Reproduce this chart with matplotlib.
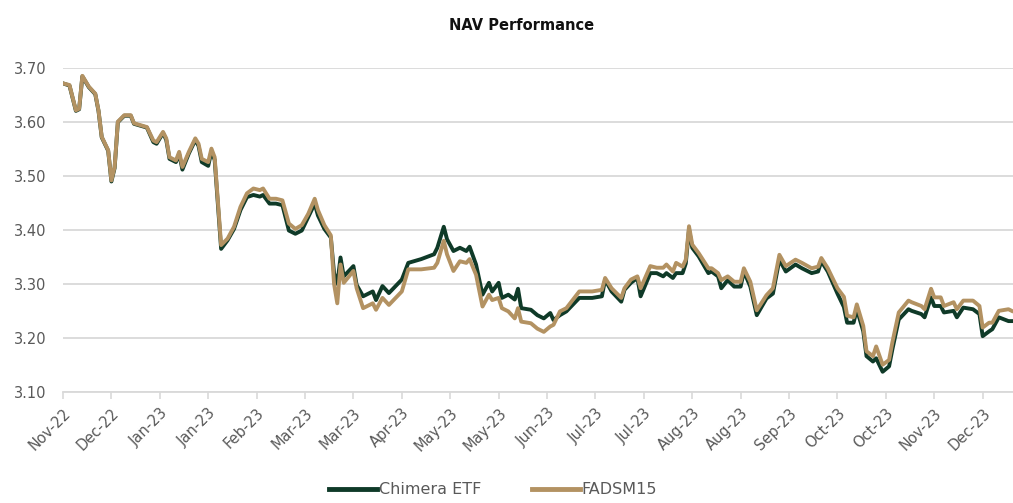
import matplotlib
matplotlib.use("Agg")
import matplotlib.pyplot as plt

# trading-day index of each read point
day = [0, 2, 4, 5, 6, 8, 10, 11, 12, 14, 15, 16, 17, 19, 21, 22, 26, 28, 29, 31,
       32, 33, 35, 36, 37, 39, 41, 42, 43, 45, 46, 47, 49, 51, 53, 55, 57, 59, 61, 62,
       64, 66, 68, 70, 72, 74, 76, 78, 79, 81, 83, 84, 85, 86, 87, 90, 91, 93, 96, 97,
       99, 101, 105, 107, 111, 115, 116, 118, 119, 121, 123, 125, 126, 128, 130, 132, 133, 135, 136, 138,
       140, 141, 142, 145, 147, 149, 151, 152, 154, 156, 160, 164, 167, 168, 170, 173, 174, 176, 178, 179,
       182, 184, 186, 187, 189, 190, 192, 193, 194, 195, 197, 200, 201, 203, 204, 206, 208, 210, 211, 213,
       215, 218, 220, 222, 224, 227, 229, 232, 234, 235, 237, 240, 242, 243, 245, 246, 248, 249, 251, 252,
       254, 256, 257, 259, 262, 263, 266, 267, 269, 270, 272, 273, 276, 277, 279, 282, 284, 285, 287, 288,
       290, 293, 294]

chimera = [3.672, 3.668, 3.621, 3.624, 3.685, 3.665, 3.652, 3.621, 3.572, 3.547, 3.490, 3.515, 3.600, 3.612, 3.612, 3.597, 3.590, 3.563, 3.560, 3.580,
           3.567, 3.532, 3.526, 3.541, 3.512, 3.542, 3.567, 3.556, 3.526, 3.519, 3.546, 3.530, 3.365, 3.381, 3.402, 3.437, 3.461, 3.465, 3.462, 3.465,
           3.449, 3.449, 3.446, 3.399, 3.393, 3.399, 3.424, 3.449, 3.427, 3.402, 3.386, 3.320, 3.300, 3.349, 3.314, 3.333, 3.298, 3.277, 3.286, 3.270,
           3.296, 3.283, 3.308, 3.339, 3.346, 3.355, 3.367, 3.406, 3.383, 3.361, 3.367, 3.361, 3.369, 3.336, 3.280, 3.302, 3.286, 3.302, 3.274, 3.280,
           3.271, 3.291, 3.255, 3.252, 3.242, 3.236, 3.246, 3.233, 3.242, 3.249, 3.274, 3.274, 3.277, 3.308, 3.286, 3.267, 3.289, 3.302, 3.311, 3.277,
           3.320, 3.320, 3.314, 3.320, 3.311, 3.320, 3.320, 3.338, 3.401, 3.367, 3.351, 3.320, 3.323, 3.314, 3.292, 3.307, 3.295, 3.295, 3.323, 3.295,
           3.242, 3.273, 3.282, 3.345, 3.323, 3.336, 3.329, 3.320, 3.323, 3.342, 3.323, 3.282, 3.257, 3.228, 3.228, 3.253, 3.212, 3.166, 3.156, 3.162,
           3.137, 3.147, 3.178, 3.234, 3.253, 3.250, 3.244, 3.238, 3.275, 3.259, 3.259, 3.247, 3.250, 3.238, 3.256, 3.253, 3.244, 3.203, 3.212, 3.216,
           3.238, 3.231, 3.231]

fadsm15 = [3.672, 3.669, 3.622, 3.625, 3.686, 3.666, 3.653, 3.622, 3.573, 3.548, 3.492, 3.517, 3.601, 3.613, 3.613, 3.598, 3.591, 3.566, 3.563, 3.582,
           3.570, 3.535, 3.529, 3.545, 3.517, 3.545, 3.570, 3.560, 3.532, 3.526, 3.551, 3.535, 3.372, 3.384, 3.406, 3.443, 3.468, 3.477, 3.474, 3.477,
           3.458, 3.458, 3.455, 3.412, 3.402, 3.409, 3.430, 3.458, 3.437, 3.409, 3.390, 3.300, 3.264, 3.336, 3.302, 3.324, 3.292, 3.255, 3.264, 3.252,
           3.274, 3.261, 3.286, 3.327, 3.327, 3.330, 3.339, 3.380, 3.355, 3.324, 3.342, 3.339, 3.346, 3.317, 3.258, 3.280, 3.270, 3.274, 3.255, 3.249,
           3.236, 3.255, 3.230, 3.227, 3.217, 3.211, 3.221, 3.224, 3.249, 3.255, 3.286, 3.286, 3.289, 3.311, 3.292, 3.274, 3.292, 3.308, 3.314, 3.292,
           3.333, 3.330, 3.330, 3.336, 3.323, 3.339, 3.332, 3.345, 3.407, 3.373, 3.357, 3.329, 3.329, 3.320, 3.307, 3.314, 3.304, 3.304, 3.329, 3.304,
           3.251, 3.279, 3.292, 3.354, 3.333, 3.345, 3.339, 3.329, 3.332, 3.348, 3.329, 3.292, 3.276, 3.241, 3.238, 3.262, 3.222, 3.175, 3.166, 3.184,
           3.150, 3.159, 3.191, 3.247, 3.269, 3.266, 3.259, 3.253, 3.291, 3.275, 3.275, 3.259, 3.266, 3.253, 3.269, 3.269, 3.259, 3.219, 3.228, 3.228,
           3.250, 3.253, 3.250]

tick_labels = ["Nov-22", "Dec-22", "Jan-23", "Jan-23", "Feb-23", "Mar-23", "Mar-23", "Apr-23",
               "May-23", "May-23", "Jun-23", "Jul-23", "Jul-23", "Aug-23", "Aug-23", "Sep-23",
               "Oct-23", "Oct-23", "Nov-23", "Dec-23"]
tick_step = 15
y_ticks = [3.10, 3.20, 3.30, 3.40, 3.50, 3.60, 3.70]

W, H = 1013, 503
fig = plt.figure(figsize=(W / 100, H / 100), dpi=100)
ax = fig.add_axes([63 / W, (H - 391.7) / H, (W - 63) / W, (391.7 - 68.3) / H])

green = "#0f3a28"
tan = "#b39262"
txt = "#595959"
grid = "#d9d9d9"

ax.plot(day, chimera, color=green, lw=2.8, solid_joinstyle="round", label="Chimera ETF", zorder=3)
ax.plot(day, fadsm15, color=tan, lw=2.8, solid_joinstyle="round", label="FADSM15", zorder=4)

ax.set_ylim(3.10, 3.70)
ax.set_xlim(0, 294.4)
ax.set_yticks(y_ticks)
ax.set_yticklabels([f"{v:.2f}" for v in y_ticks])
ax.yaxis.grid(True, color=grid, lw=1.3)
ax.set_axisbelow(True)

xt = [i * tick_step for i in range(len(tick_labels))]
ax.set_xticks(xt)
ax.set_xticklabels(tick_labels, rotation=45, ha="right", rotation_mode="anchor")

for s in ["top", "right", "left"]:
    ax.spines[s].set_visible(False)
ax.spines["bottom"].set_color(grid)
ax.spines["bottom"].set_linewidth(1.3)
ax.tick_params(axis="y", length=0, pad=12, labelsize=10.5, labelcolor=txt)
ax.tick_params(axis="x", length=5, width=1.2, color=grid, pad=5, labelsize=10.5, labelcolor=txt)

fig.text(522 / W, 1 - 25 / H, "NAV Performance", ha="center", va="center",
         fontsize=10.5, fontweight="bold", color="#111111")

leg = fig.legend(loc="center", bbox_to_anchor=(493 / W, 13 / H), ncol=2, frameon=False,
                 handlelength=3.0, handletextpad=0.1, columnspacing=3.2, fontsize=11.5)
for t in leg.get_texts():
    t.set_color(txt)
for l in leg.get_lines():
    l.set_linewidth(3.5)

fig.savefig("out.png", dpi=100)
